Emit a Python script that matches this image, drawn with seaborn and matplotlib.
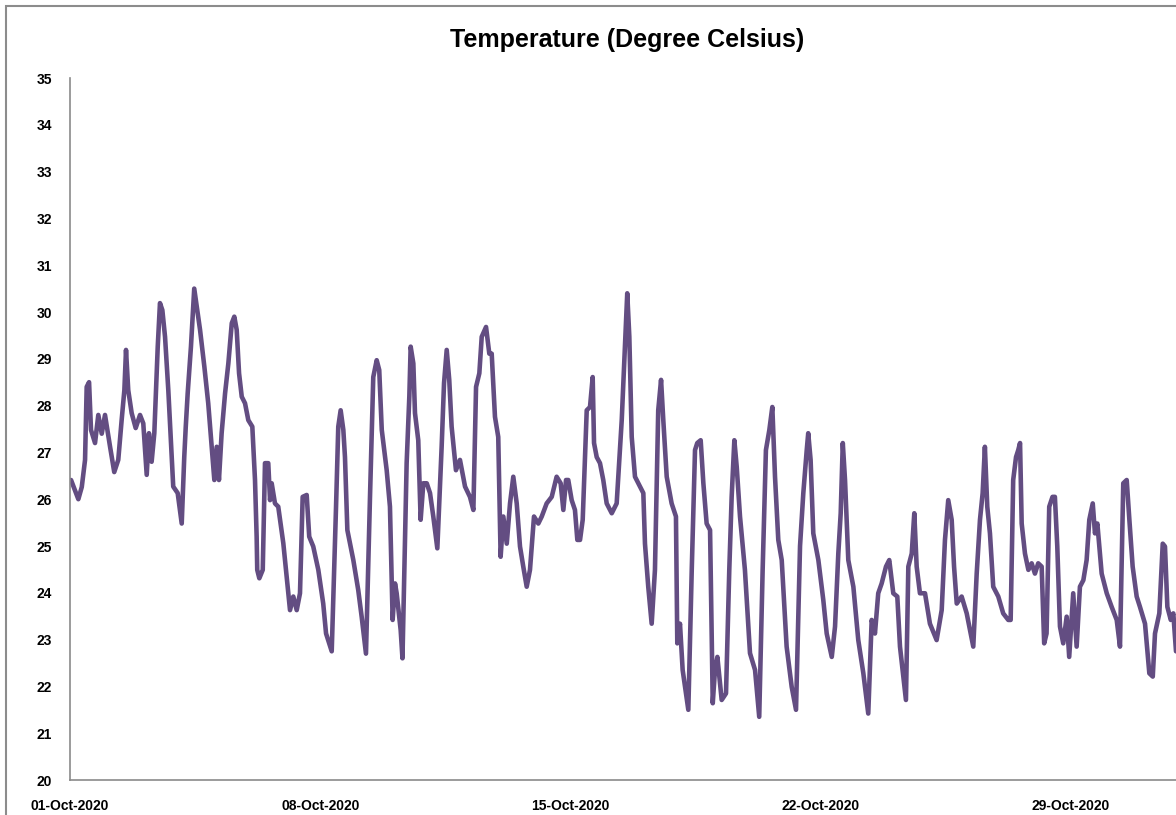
import numpy as np
import pandas as pd
import seaborn as sns
import matplotlib
matplotlib.use("Agg")
import matplotlib.pyplot as plt
import matplotlib.dates as mdates
from matplotlib.patches import Rectangle

# hours since 01-Oct-2020 00:00, temperature
hours = [0.7, 5.6, 7.9, 10.1, 11.2, 12.8, 14.1, 16.8, 19.0, 21.3, 23.5, 26.9, 29.7, 32.4,
         34.7, 36.5, 37.6, 39.1, 41.4, 44.1, 47.0, 49.2, 51.5, 53.0, 54.8, 56.6, 58.9, 60.4,
         62.0, 63.8, 66.0, 69.3, 72.3, 75.0, 76.7, 77.7, 79.0, 81.2, 83.4, 85.1, 87.3, 90.2,
         92.8, 95.1, 96.9, 98.5, 100.0, 101.8, 104.1, 106.3, 108.6, 110.3, 111.9, 113.5, 115.3,
         117.5, 119.7, 122.4, 124.2, 125.3, 125.7, 127.1, 129.4, 130.9, 133.1, 134.3, 135.4,
         137.6, 139.8, 143.2, 146.6, 147.7, 149.9, 152.2, 154.4, 156.2, 158.9, 160.6, 163.3,
         166.7, 170.0, 171.9, 175.7, 178.6, 180.1, 181.7, 183.5, 184.6, 186.2, 190.2, 193.5,
         195.8, 198.7, 201.4, 203.6, 205.9, 207.6, 209.3, 212.6, 214.8, 216.6, 218.2, 219.3,
         222.0, 223.2, 226.0, 227.8, 228.7, 230.5, 231.6, 233.8, 235.4, 237.2, 239.5, 241.7,
         243.9, 246.6, 249.5, 251.1, 252.9, 254.6, 256.2, 259.1, 261.8, 265.2, 268.5, 270.8,
         272.6, 274.8, 276.4, 279.3, 281.5, 283.1, 285.3, 287.5, 289.1, 290.9, 293.2, 295.4,
         297.6, 299.9, 302.1, 304.3, 306.6, 308.8, 311.5, 314.4, 316.7, 320.0, 323.4, 326.7,
         329.4, 331.2, 333.0, 334.5, 336.8, 339.0, 340.6, 342.4, 344.2, 346.9, 349.1, 350.9,
         351.8, 353.6, 355.8, 358.0, 360.3, 363.7, 367.0, 370.4, 372.6, 374.1, 375.5, 377.1,
         379.3, 382.7, 384.9, 386.0, 388.2, 390.5, 392.7, 394.9, 396.8, 398.3, 400.6, 403.9,
         406.8, 407.7, 409.5, 411.3, 415.1, 417.4, 419.6, 421.1, 423.4, 425.2, 427.4, 429.7,
         431.5, 433.0, 434.6, 437.5, 440.4, 442.6, 444.2, 446.0, 447.6, 449.8, 453.1, 456.5,
         459.9, 462.7, 465.0, 467.2, 469.5, 471.5, 473.3, 475.5, 477.8, 481.1, 484.5, 487.4,
         490.1, 492.3, 494.6, 495.6, 497.2, 499.0, 502.4, 505.7, 508.0, 511.4, 513.6, 515.8,
         517.4, 518.8, 520.3, 522.5, 525.9, 529.2, 532.6, 535.9, 538.2, 540.4, 542.6, 544.9,
         547.8, 550.0, 552.7, 555.4, 557.2, 561.2, 562.8, 565.1, 566.8, 568.4, 570.6, 574.0,
         577.3, 581.8, 585.2, 587.4, 589.6, 591.9, 593.5, 595.3, 598.6, 602.0, 606.4, 608.7,
         610.9, 612.7, 614.2, 615.8, 617.6, 619.8, 623.2, 626.5, 629.9, 631.5, 633.2, 635.1,
         636.6, 637.8, 638.9, 641.1, 643.4, 645.6, 647.8, 650.0, 652.3, 654.0, 655.6, 657.4,
         659.6, 661.2, 662.8, 664.6, 666.8, 669.1, 670.8, 673.5, 675.8, 678.0, 680.3, 682.5,
         684.3, 686.6, 688.1, 689.7, 692.6, 696.0, 699.3, 702.7, 704.9, 707.1, 709.4, 711.2,
         713.4, 716.1, 718.3, 721.7, 724.6, 726.9, 728.4, 731.3, 733.6, 735.1, 736.7, 739.0,
         740.7, 742.5]

temps = [26.41, 26.0, 26.26, 26.84, 28.4, 28.5, 27.48, 27.2, 27.8, 27.4, 27.8, 27.12, 26.58, 26.84,
         27.7, 28.33, 29.19, 28.33, 27.84, 27.52, 27.8, 27.62, 26.52, 27.41, 26.8, 27.41, 29.26, 30.19,
         30.04, 29.47, 28.33, 26.27, 26.13, 25.48, 26.9, 27.54, 28.26, 29.26, 30.5, 30.11, 29.62, 28.83,
         28.05, 27.12, 26.41, 27.12, 26.41, 27.41, 28.26, 28.9, 29.76, 29.9, 29.62, 28.69, 28.19,
         28.05, 27.69, 27.55, 26.41, 25.2, 24.49, 24.31, 24.49, 26.77, 26.77, 25.98, 26.34,
         25.91, 25.84, 25.06, 23.99, 23.63, 23.92, 23.63, 23.99, 26.05, 26.09, 25.2, 24.99,
         24.49, 23.77, 23.13, 22.75, 25.84, 27.55, 27.9, 27.48, 26.9, 25.34, 24.7, 24.06,
         23.49, 22.7, 26.05, 28.61, 28.97, 28.76, 27.48, 26.62, 25.84, 23.42, 24.2, 23.99,
         23.2, 22.6, 26.77, 28.19, 29.26, 28.9, 27.84, 27.26, 25.56, 26.34, 26.34, 26.13,
         25.63, 24.95, 27.12, 28.48, 29.19, 28.55, 27.55, 26.62, 26.84, 26.27, 26.05, 25.77,
         28.4, 28.69, 29.47, 29.68, 29.11, 29.11, 27.76, 27.33, 24.77, 25.63, 25.05, 25.91,
         26.48, 25.91, 24.99, 24.56, 24.13, 24.49, 25.63, 25.48, 25.63, 25.91, 26.05, 26.48,
         26.34, 25.77, 26.41, 26.41, 25.98, 25.77, 25.13, 25.13, 25.56, 27.9, 27.97, 28.61,
         27.2, 26.9, 26.77, 26.41, 25.91, 25.7, 25.91, 27.69, 29.33, 30.4, 29.47, 27.33,
         26.48, 26.27, 26.13, 25.05, 24.13, 23.34, 24.49, 27.9, 28.55, 27.69, 26.48, 25.91,
         25.63, 22.92, 23.34, 22.35, 21.5, 24.49, 27.05, 27.2, 27.26, 26.34, 25.48, 25.34,
         21.64, 22.35, 22.63, 21.71, 21.85, 24.49, 26.05, 27.26, 26.69, 25.63, 24.49, 22.71,
         22.35, 21.35, 24.49, 27.05, 27.48, 27.97, 26.48, 25.13, 24.7, 22.85, 21.99, 21.5,
         25.0, 26.13, 27.05, 27.41, 26.84, 25.27, 24.7, 23.85, 23.13, 22.63, 23.28, 24.84,
         25.7, 27.2, 26.41, 24.7, 24.13, 22.99, 22.28, 21.42, 23.42, 23.13, 23.99, 24.2,
         24.56, 24.7, 23.99, 23.92, 22.85, 21.71, 24.56, 24.84, 25.7, 24.56, 23.99, 23.99,
         23.34, 22.99, 23.63, 25.13, 25.98, 25.56, 24.56, 23.77, 23.92, 23.56, 22.85, 24.41,
         25.56, 26.13, 27.12, 25.84, 25.27, 24.13, 23.92, 23.56, 23.42, 23.42, 26.41, 26.9,
         27.05, 27.2, 25.48, 24.84, 24.49, 24.63, 24.41, 24.63, 24.56, 22.92, 23.13, 25.84,
         26.05, 26.05, 24.99, 23.28, 22.92, 23.49, 22.63, 23.99, 22.85, 24.13, 24.27, 24.7,
         25.56, 25.91, 25.27, 25.48, 24.41, 23.99, 23.7, 23.42, 22.85, 26.34, 26.41, 25.56,
         24.56, 23.92, 23.7, 23.34, 22.28, 22.21, 23.13, 23.56, 25.05, 24.99, 23.7, 23.42,
         23.56, 22.75]

start = pd.Timestamp("2020-10-01")
df = pd.DataFrame({"time": start + pd.to_timedelta(hours, unit="h"), "temp": temps})

sns.set_theme(style="white")
plt.rcParams['font.family'] = ['Liberation Sans', 'DejaVu Sans']

W, H = 1176, 815
fig = plt.figure(figsize=(W / 100, H / 100), dpi=100)
ax = fig.add_axes([70 / W, 35 / H, (W - 70) / W, (780 - 78) / H])

sns.lineplot(data=df, x="time", y="temp", ax=ax, color="#634D82", linewidth=3.3)

ax.set_ylim(20, 35)
ax.set_yticks(range(20, 36))
ax.set_xlim(start, start + pd.Timedelta(hours=742.5))
ax.xaxis.set_major_locator(mdates.DayLocator(bymonthday=[1, 8, 15, 22, 29]))
ax.xaxis.set_major_formatter(mdates.DateFormatter("%d-%b-%Y"))
ax.set_xlabel("")
ax.set_ylabel("")

for side in ["top", "right"]:
    ax.spines[side].set_visible(False)
for side in ["left", "bottom"]:
    ax.spines[side].set_color("#8a8a8a")
    ax.spines[side].set_linewidth(1.2)
ax.tick_params(axis="both", which="major", direction="out", length=6, width=1.1,
               color="#8a8a8a", labelsize=10, pad=7)
ax.tick_params(axis="x", pad=8)
for lbl in ax.get_xticklabels() + ax.get_yticklabels():
    lbl.set_fontweight("bold")
    lbl.set_color("black")

fig.text(627 / W, 1 - 40 / H, "Temperature (Degree Celsius)", ha="center", va="center",
         fontsize=18, fontweight="bold", color="black")

# chart area border (Excel style), cut by the image edge at right and bottom
fig.patches.append(Rectangle((6 / W, -0.1), 2.0, (H - 6) / H + 0.1, transform=fig.transFigure,
                             fill=False, edgecolor="#8c8c8c", linewidth=1.5))

fig.savefig("out.png", dpi=100)
